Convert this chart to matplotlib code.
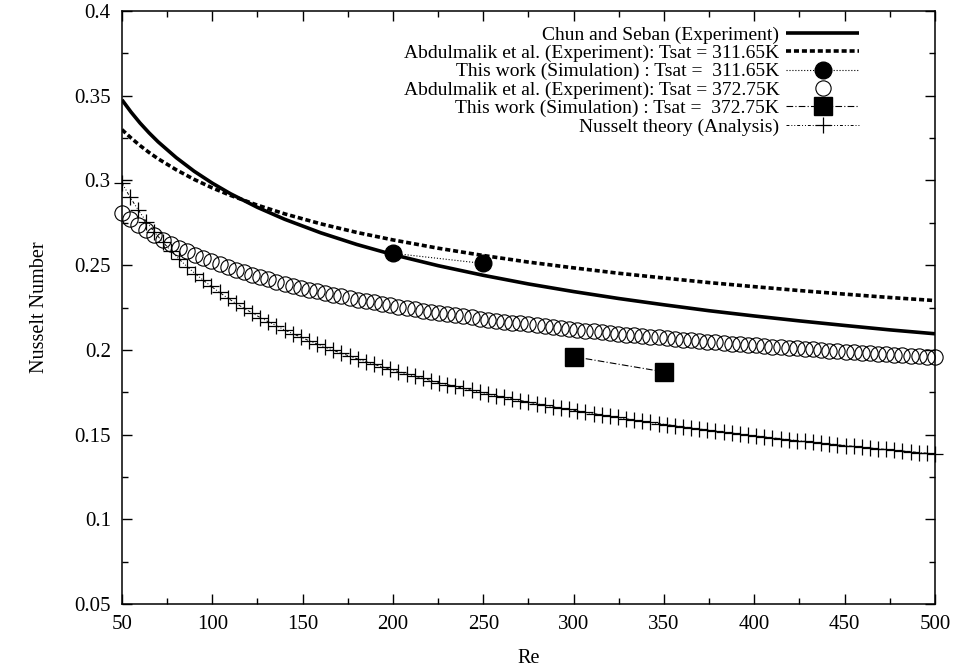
import matplotlib
matplotlib.use("Agg")
import matplotlib.pyplot as plt
from matplotlib.ticker import MultipleLocator

plt.rcParams['font.family'] = ['Liberation Serif', 'DejaVu Serif']
plt.rcParams['font.size'] = 14

# Re grid of the sampled curves (100 steps of 4.5 from 50 to 500)
re_grid = [50.0, 54.5, 59.0, 63.5, 68.0, 72.5, 77.0, 81.5, 86.0, 90.5,
           95.0, 99.5, 104.0, 108.5, 113.0, 117.5, 122.0, 126.5, 131.0, 135.5,
           140.0, 144.5, 149.0, 153.5, 158.0, 162.5, 167.0, 171.5, 176.0, 180.5,
           185.0, 189.5, 194.0, 198.5, 203.0, 207.5, 212.0, 216.5, 221.0, 225.5,
           230.0, 234.5, 239.0, 243.5, 248.0, 252.5, 257.0, 261.5, 266.0, 270.5,
           275.0, 279.5, 284.0, 288.5, 293.0, 297.5, 302.0, 306.5, 311.0, 315.5,
           320.0, 324.5, 329.0, 333.5, 338.0, 342.5, 347.0, 351.5, 356.0, 360.5,
           365.0, 369.5, 374.0, 378.5, 383.0, 387.5, 392.0, 396.5, 401.0, 405.5,
           410.0, 414.5, 419.0, 423.5, 428.0, 432.5, 437.0, 441.5, 446.0, 450.5,
           455.0, 459.5, 464.0, 468.5, 473.0, 477.5, 482.0, 486.5, 491.0, 495.5,
           500.0]

# Abdulmalik et al. (Experiment), Tsat = 372.75K  (open circles)
nu_abd_372 = [0.2810, 0.2772, 0.2738, 0.2707, 0.2678, 0.2651, 0.2626, 0.2603, 0.2581, 0.2560,
              0.2541, 0.2522, 0.2505, 0.2488, 0.2472, 0.2457, 0.2443, 0.2429, 0.2416, 0.2403,
              0.2391, 0.2379, 0.2367, 0.2356, 0.2346, 0.2335, 0.2325, 0.2316, 0.2306, 0.2297,
              0.2288, 0.2280, 0.2271, 0.2263, 0.2255, 0.2247, 0.2240, 0.2232, 0.2225, 0.2218,
              0.2211, 0.2205, 0.2198, 0.2192, 0.2185, 0.2179, 0.2173, 0.2167, 0.2161, 0.2156,
              0.2150, 0.2145, 0.2139, 0.2134, 0.2129, 0.2124, 0.2119, 0.2114, 0.2109, 0.2104,
              0.2100, 0.2095, 0.2090, 0.2086, 0.2082, 0.2077, 0.2073, 0.2069, 0.2065, 0.2061,
              0.2057, 0.2053, 0.2049, 0.2045, 0.2041, 0.2037, 0.2034, 0.2030, 0.2026, 0.2023,
              0.2019, 0.2016, 0.2012, 0.2009, 0.2006, 0.2003, 0.1999, 0.1996, 0.1993, 0.1990,
              0.1987, 0.1984, 0.1981, 0.1978, 0.1975, 0.1972, 0.1969, 0.1966, 0.1963, 0.1960,
              0.1957]

# Nusselt theory (Analysis)  (plus markers)
nu_nusselt = [0.2986, 0.2901, 0.2826, 0.2757, 0.2695, 0.2638, 0.2586, 0.2537, 0.2492, 0.2450,
              0.2411, 0.2374, 0.2339, 0.2306, 0.2275, 0.2246, 0.2218, 0.2191, 0.2166, 0.2142,
              0.2118, 0.2096, 0.2075, 0.2054, 0.2035, 0.2016, 0.1997, 0.1980, 0.1963, 0.1946,
              0.1930, 0.1915, 0.1900, 0.1886, 0.1872, 0.1858, 0.1845, 0.1832, 0.1819, 0.1807,
              0.1795, 0.1784, 0.1773, 0.1762, 0.1751, 0.1740, 0.1730, 0.1720, 0.1710, 0.1701,
              0.1692, 0.1682, 0.1673, 0.1665, 0.1656, 0.1648, 0.1640, 0.1631, 0.1624, 0.1616,
              0.1608, 0.1601, 0.1593, 0.1586, 0.1579, 0.1572, 0.1565, 0.1559, 0.1552, 0.1546,
              0.1539, 0.1533, 0.1527, 0.1521, 0.1515, 0.1509, 0.1503, 0.1497, 0.1492, 0.1486,
              0.1481, 0.1475, 0.1470, 0.1465, 0.1460, 0.1455, 0.1449, 0.1445, 0.1440, 0.1435,
              0.1430, 0.1425, 0.1421, 0.1416, 0.1412, 0.1407, 0.1403, 0.1399, 0.1394, 0.1390,
              0.1386]

# smooth experimental correlations, read at fewer Re points
re_line = [50, 55, 60, 65, 70, 80, 90, 100, 110, 125, 140, 160, 180, 200, 225,
           250, 275, 300, 325, 350, 375, 400, 425, 450, 475, 500]
nu_chun = [0.3476, 0.3404, 0.3339, 0.3281, 0.3228, 0.3135, 0.3054, 0.2984, 0.2922, 0.2841,
           0.2771, 0.2691, 0.2622, 0.2562, 0.2497, 0.2440, 0.2389, 0.2344, 0.2303, 0.2266,
           0.2231, 0.2200, 0.2171, 0.2144, 0.2118, 0.2095]
nu_abd_311 = [0.3300, 0.3251, 0.3206, 0.3165, 0.3128, 0.3063, 0.3006, 0.2956, 0.2912, 0.2854,
              0.2803, 0.2744, 0.2693, 0.2649, 0.2600, 0.2557, 0.2518, 0.2484, 0.2452, 0.2424,
              0.2397, 0.2373, 0.2350, 0.2329, 0.2309, 0.2291]

# simulation results
re_sim_311 = [200, 250]
nu_sim_311 = [0.257, 0.251]
re_sim_372 = [300, 350]
nu_sim_372 = [0.196, 0.187]

fig = plt.figure(figsize=(9.58, 6.72), dpi=100)
ax = fig.add_axes([0.1273, 0.1012, 0.976 - 0.1273, 0.9836 - 0.1012])

ax.plot(re_line, nu_chun, color='black', lw=2.6, solid_capstyle='butt',
        label='Chun and Seban (Experiment)')
ax.plot(re_line, nu_abd_311, color='black', lw=2.6, dashes=(1.4, 0.8),
        dash_capstyle='butt', label='Abdulmalik et al. (Experiment): Tsat = 311.65K')
ax.plot(re_sim_311, nu_sim_311, color='black', lw=0.8, ls=':', marker='o', ms=12,
        label='This work (Simulation) : Tsat =  311.65K')
ax.plot(re_grid, nu_abd_372, ls='none', marker='o', ms=11, mfc='none', mec='black',
        mew=0.8, clip_on=False, label='Abdulmalik et al. (Experiment): Tsat = 372.75K')
ax.plot(re_sim_372, nu_sim_372, color='black', lw=0.8, ls=(0, (6, 2, 1, 2)), marker='s',
        ms=12.5, label='This work (Simulation) : Tsat =  372.75K')
ax.plot(re_grid, nu_nusselt, color='black', lw=0.7, ls=(0, (3, 2, 1, 2, 1, 2)), marker='+',
        ms=11, mew=0.9, clip_on=False, label='Nusselt theory (Analysis)')

ax.set_xlim(50, 500)
ax.set_ylim(0.05, 0.4)
ax.xaxis.set_major_locator(MultipleLocator(50))
ax.xaxis.set_minor_locator(MultipleLocator(25))
ax.yaxis.set_minor_locator(MultipleLocator(0.025))
ax.tick_params(which='both', direction='in', top=True, right=True, width=1.0)
ax.tick_params(which='major', length=7, pad=8, labelsize=15)
ax.tick_params(which='minor', length=4)
ax.set_yticks([0.05, 0.1, 0.15, 0.2, 0.25, 0.3, 0.35, 0.4])
ax.set_yticklabels(['0.05', '0.1', '0.15', '0.2', '0.25', '0.3', '0.35', '0.4'])
for s in ax.spines.values():
    s.set_linewidth(1.1)

ax.set_xlabel('Re', labelpad=11, fontsize=14.5)
ax.set_ylabel('Nusselt Number', labelpad=18, fontsize=14.5)

leg = ax.legend(loc='upper right', bbox_to_anchor=(0.9065, 0.975), markerfirst=False,
                frameon=False, numpoints=1, handlelength=3.75, handletextpad=0.35,
                labelspacing=0.04, borderpad=0, borderaxespad=0, fontsize=14)

fig.savefig('out.png', dpi=100)
